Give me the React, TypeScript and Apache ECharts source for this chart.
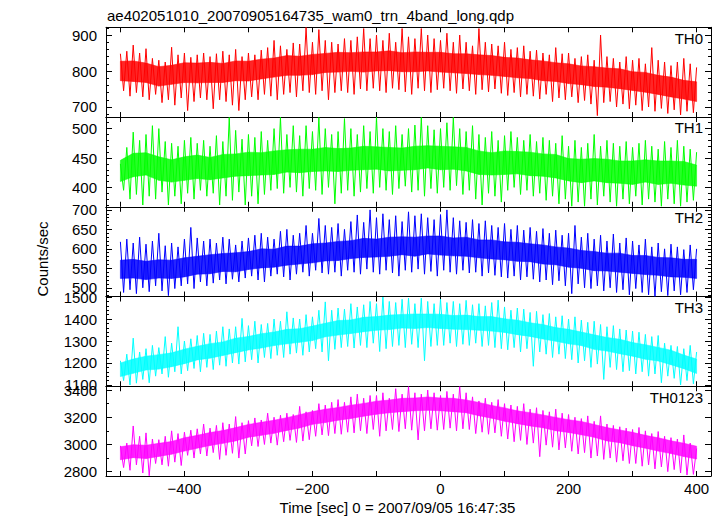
import React, { useEffect, useRef } from "react";
import * as echarts from "echarts";

const TITLE = "ae402051010_20070905164735_wam0_trn_4band_long.qdp";
const X_NAME = "Time [sec] 0 = 2007/09/05 16:47:35";
const Y_NAME = "Counts/sec";
const BANDS = ["TH0", "TH1", "TH2", "TH3", "TH0123"];
const COLORS = ["#ff0000", "#00ff00", "#0000ff", "#00ffff", "#ff00ff"];

// envelope: upper values at T_START + 10*i, lower values at T_START + 5 + 10*i
const T_START = -500;
const T_STEP = 10;
// dense core band: values at T_START + 20*i
const CORE_STEP = 20;
const X_MIN = -522.5;
const X_MAX = 422.5;
const X_TICKS = [-500, -400, -300, -200, -100, 0, 100, 200, 300, 400];
const X_LABELS = [-400, -200, 0, 200, 400];

const Y_MIN = [672, 367, 477.6, 1094, 2768];
const Y_MAX = [921.5, 519.7, 708, 1502.5, 3428];
const Y_MAJOR = [
  [700, 800, 900],
  [400, 450, 500],
  [500, 550, 600, 650, 700],
  [1100, 1200, 1300, 1400, 1500],
  [2800, 3000, 3200, 3400],
];
const Y_MINOR_STEP = [20, 10, 10, 20, 100];

const TH0_HI = [
  848, 855, 872, 850, 862, 835, 830, 825, 866, 845,
  850, 838, 845, 850, 840, 848, 855, 845, 860, 840,
  850, 845, 858, 865, 885, 870, 860, 878, 875, 921,
  880, 915, 885, 880, 875, 890, 885, 895, 918, 890,
  900, 885, 905, 880, 918, 895, 890, 918, 900, 890,
  885, 905, 880, 900, 880, 870, 918, 880, 875, 870,
  880, 860, 865, 870, 855, 858, 850, 845, 865, 848,
  850, 835, 840, 845, 830, 900, 840, 835, 825, 840,
  830, 835, 820, 865, 830, 825, 815, 825, 835, 820,
  810,
];
const TH0_LO = [
  745, 730, 740, 728, 720, 735, 712, 720, 705, 725,
  690, 715, 725, 720, 695, 720, 715, 705, 690, 720,
  728, 720, 735, 730, 720, 735, 740, 728, 745, 740,
  735, 745, 720, 740, 745, 740, 735, 750, 745, 752,
  745, 740, 752, 748, 742, 735, 752, 745, 740, 748,
  752, 745, 738, 750, 745, 735, 748, 742, 750, 738,
  732, 740, 728, 735, 730, 722, 735, 715, 725, 720,
  728, 712, 718, 708, 676, 712, 715, 700, 708, 695,
  705, 690, 700, 688, 696, 682, 692, 678, 688, 684,
];
const TH0_CORE_HI = [
  827, 828, 822, 812, 816, 823, 822, 824, 821, 828, 827, 833, 836, 843, 841, 846,
  849, 852, 851, 853, 853, 856, 851, 853, 852, 852, 848, 848, 845, 843, 838, 836,
  831, 828, 823, 820, 814, 812, 808, 806, 798, 796, 788, 783, 774, 770,
];
const TH0_CORE_LO = [
  773, 771, 768, 758, 763, 768, 767, 768, 768, 773, 772, 778, 783, 788, 788, 790,
  796, 797, 799, 797, 800, 801, 798, 798, 800, 797, 795, 793, 790, 788, 785, 781,
  779, 773, 771, 765, 762, 757, 755, 751, 746, 741, 735, 728, 722, 715,
];

const TH1_HI = [
  440, 468, 494, 480, 490, 505, 500, 478, 475, 470,
  480, 485, 475, 480, 470, 488, 478, 519, 497, 482,
  490, 485, 495, 480, 500, 519, 490, 505, 488, 505,
  495, 519, 500, 490, 495, 517, 500, 490, 505, 495,
  519, 500, 495, 505, 490, 500, 506, 519, 505, 498,
  500, 510, 519, 500, 495, 505, 490, 485, 495, 480,
  488, 495, 485, 480, 490, 478, 485, 480, 475, 488,
  470, 480, 468, 475, 490, 470, 480, 475, 470, 478,
  468, 475, 480, 470, 465, 478, 468, 480, 470, 465,
  460,
];
const TH1_LO = [
  395, 380, 388, 370, 385, 380, 392, 370, 385, 372,
  390, 380, 395, 385, 390, 370, 385, 378, 392, 370,
  385, 372, 388, 395, 398, 390, 400, 392, 385, 398,
  395, 388, 400, 372, 390, 395, 385, 392, 398, 390,
  400, 395, 388, 398, 402, 392, 395, 385, 398, 390,
  400, 395, 403, 388, 395, 380, 370, 390, 385, 375,
  395, 400, 388, 395, 385, 390, 378, 385, 372, 380,
  368, 375, 368, 380, 370, 385, 375, 368, 380, 372,
  385, 370, 380, 375, 368, 380, 372, 368, 375, 378,
];
const TH1_CORE_HI = [
  446, 458, 459, 452, 447, 452, 455, 451, 456, 457, 460, 459, 462, 464, 465, 465,
  468, 466, 467, 470, 469, 468, 467, 470, 471, 470, 469, 468, 462, 459, 462, 461,
  460, 457, 456, 449, 448, 449, 448, 445, 445, 447, 445, 445, 444, 438,
];
const TH1_CORE_LO = [
  410, 418, 421, 412, 409, 412, 415, 413, 416, 419, 420, 421, 422, 426, 425, 427,
  428, 427, 429, 430, 431, 428, 429, 430, 433, 430, 431, 428, 422, 421, 422, 423,
  420, 419, 416, 411, 408, 411, 408, 407, 405, 409, 405, 407, 404, 402,
];

const TH2_HI = [
  618, 625, 615, 630, 612, 620, 640, 608, 615, 605,
  625, 655, 628, 620, 625, 615, 630, 625, 610, 620,
  628, 635, 640, 630, 625, 645, 650, 635, 640, 660,
  640, 678, 660, 655, 665, 650, 670, 687, 668, 700,
  680, 690, 675, 685, 670, 695, 685, 690, 680, 675,
  688, 700, 680, 672, 668, 675, 665, 672, 660, 655,
  665, 650, 660, 648, 655, 645, 652, 640, 648, 635,
  640, 660, 630, 640, 625, 635, 620, 638, 615, 628,
  620, 610, 625, 605, 615, 600, 612, 605, 598, 610,
  600,
];
const TH2_LO = [
  488, 495, 485, 500, 490, 505, 492, 480, 498, 505,
  510, 498, 515, 505, 512, 520, 510, 522, 515, 525,
  530, 520, 515, 530, 535, 528, 520, 535, 540, 530,
  545, 538, 535, 540, 530, 545, 540, 535, 548, 540,
  535, 545, 538, 530, 545, 540, 548, 535, 542, 530,
  545, 540, 535, 545, 538, 540, 530, 538, 532, 528,
  525, 530, 520, 528, 522, 515, 520, 508, 518, 505,
  485, 510, 500, 498, 505, 492, 500, 488, 495, 482,
  498, 488, 482, 478, 490, 480, 492, 482, 488, 495,
];
const TH2_CORE_HI = [
  571, 573, 568, 572, 571, 577, 581, 585, 588, 590, 593, 600, 599, 607, 607, 613,
  615, 619, 621, 627, 625, 630, 631, 630, 633, 633, 628, 630, 623, 623, 618, 617,
  613, 610, 605, 602, 596, 593, 589, 589, 583, 583, 578, 577, 573, 573,
];
const TH2_CORE_LO = [
  524, 525, 521, 525, 524, 528, 535, 536, 542, 541, 547, 551, 553, 558, 561, 564,
  569, 570, 575, 578, 579, 581, 585, 581, 587, 584, 582, 581, 577, 574, 572, 568,
  567, 561, 559, 553, 550, 544, 543, 540, 537, 534, 532, 528, 527, 524,
];

const TH3_HI = [
  1210, 1240, 1313, 1250, 1265, 1280, 1270, 1320, 1290, 1365,
  1300, 1310, 1325, 1335, 1330, 1345, 1365, 1355, 1365, 1403,
  1370, 1390, 1375, 1380, 1400, 1390, 1433, 1405, 1400, 1420,
  1410, 1440, 1478, 1440, 1450, 1445, 1470, 1455, 1465, 1480,
  1470, 1500, 1480, 1475, 1490, 1495, 1470, 1495, 1480, 1470,
  1490, 1475, 1480, 1470, 1485, 1465, 1470, 1460, 1475, 1486,
  1455, 1440, 1450, 1445, 1430, 1435, 1420, 1425, 1410, 1415,
  1400, 1410, 1395, 1385, 1390, 1375, 1365, 1370, 1355, 1350,
  1345, 1340, 1330, 1320, 1325, 1290, 1280, 1275, 1265, 1280,
  1250,
];
const TH3_LO = [
  1120, 1100, 1108, 1125, 1110, 1140, 1150, 1135, 1160, 1150,
  1165, 1175, 1160, 1180, 1170, 1190, 1185, 1200, 1195, 1205,
  1215, 1200, 1225, 1220, 1235, 1225, 1240, 1245, 1235, 1250,
  1265, 1250, 1210, 1262, 1270, 1275, 1268, 1280, 1270, 1290,
  1252, 1265, 1275, 1280, 1270, 1285, 1270, 1210, 1275, 1280,
  1280, 1290, 1275, 1285, 1280, 1290, 1275, 1280, 1270, 1265,
  1260, 1270, 1250, 1265, 1185, 1250, 1240, 1225, 1240, 1220,
  1215, 1200, 1210, 1180, 1195, 1125, 1180, 1170, 1160, 1165,
  1150, 1160, 1140, 1150, 1110, 1140, 1130, 1100, 1120, 1105,
];
const TH3_CORE_HI = [
  1200, 1218, 1231, 1238, 1246, 1263, 1276, 1288, 1296, 1313, 1321, 1333, 1341, 1353, 1356, 1368,
  1381, 1393, 1396, 1408, 1411, 1418, 1421, 1423, 1423, 1422, 1416, 1418, 1411, 1411, 1401, 1395,
  1383, 1375, 1361, 1353, 1341, 1328, 1316, 1308, 1293, 1283, 1271, 1258, 1236, 1218,
];
const TH3_CORE_LO = [
  1138, 1153, 1168, 1172, 1183, 1197, 1214, 1222, 1234, 1247, 1259, 1268, 1279, 1287, 1294, 1302,
  1319, 1327, 1334, 1342, 1349, 1352, 1359, 1357, 1361, 1357, 1354, 1352, 1349, 1345, 1339, 1329,
  1321, 1309, 1299, 1287, 1279, 1262, 1254, 1242, 1231, 1217, 1209, 1192, 1174, 1152,
];

const TH0123_HI = [
  2990, 3010, 3136, 3060, 3085, 3040, 3035, 3060, 3100, 3080,
  3090, 3105, 3115, 3150, 3120, 3140, 3160, 3150, 3205, 3160,
  3175, 3195, 3180, 3230, 3200, 3215, 3230, 3220, 3280, 3240,
  3250, 3300, 3290, 3310, 3330, 3310, 3350, 3370, 3340, 3360,
  3360, 3380, 3340, 3410, 3370, 3425, 3380, 3370, 3400, 3380,
  3360, 3390, 3370, 3425, 3380, 3350, 3320, 3340, 3310, 3330,
  3300, 3290, 3280, 3300, 3260, 3270, 3250, 3240, 3260, 3230,
  3220, 3200, 3190, 3210, 3170, 3210, 3150, 3140, 3130, 3120,
  3110, 3125, 3100, 3080, 3095, 3060, 3050, 3040, 3070, 3010,
  2970,
];
const TH0123_LO = [
  2830, 2810, 2850, 2790, 2770, 2860, 2850, 2840, 2870, 2845,
  2920, 2900, 2930, 2915, 2940, 2890, 2920, 2935, 2900, 2930,
  2990, 2985, 3000, 3010, 2995, 3020, 3030, 3015, 3025, 3035,
  3060, 3070, 3065, 3080, 3075, 3090, 3085, 3100, 3080, 3110,
  3060, 3100, 3110, 3095, 3115, 3105, 3033, 3100, 3115, 3105,
  3110, 3120, 3100, 3115, 3110, 3080, 3090, 3075, 3085, 3060,
  3040, 3020, 3030, 3000, 3010, 2910, 2995, 2980, 2960, 2975,
  2950, 2930, 2940, 2900, 2915, 2890, 2900, 2870, 2880, 2860,
  2860, 2840, 2850, 2820, 2835, 2800, 2815, 2790, 2775, 2780,
];
const TH0123_CORE_HI = [
  2983, 2998, 2994, 3008, 3022, 3049, 3067, 3088, 3102, 3124, 3147, 3163, 3178, 3197, 3219, 3242,
  3259, 3272, 3289, 3302, 3318, 3327, 3339, 3342, 3349, 3342, 3339, 3327, 3309, 3287, 3269, 3247,
  3234, 3217, 3199, 3182, 3169, 3147, 3124, 3107, 3089, 3067, 3049, 3027, 3009, 2987,
];
const TH0123_CORE_LO = [
  2887, 2903, 2896, 2912, 2928, 2951, 2973, 2992, 3008, 3026, 3053, 3067, 3082, 3103, 3121, 3148,
  3161, 3178, 3191, 3208, 3222, 3233, 3241, 3248, 3251, 3248, 3241, 3233, 3211, 3193, 3171, 3153,
  3136, 3123, 3101, 3088, 3071, 3053, 3026, 3013, 2991, 2973, 2951, 2933, 2911, 2893,
];

const HI = [TH0_HI, TH1_HI, TH2_HI, TH3_HI, TH0123_HI];
const LO = [TH0_LO, TH1_LO, TH2_LO, TH3_LO, TH0123_LO];
const CORE_HI = [TH0_CORE_HI, TH1_CORE_HI, TH2_CORE_HI, TH3_CORE_HI, TH0123_CORE_HI];
const CORE_LO = [TH0_CORE_LO, TH1_CORE_LO, TH2_CORE_LO, TH3_CORE_LO, TH0123_CORE_LO];

// layout
const W = 723;
const H = 516;
const GRID_LEFT = 106;
const GRID_RIGHT = 12;
const TOP0 = 27.3;
const PANEL_H = 89.74;
const FONT = '"Liberation Sans", Arial, Helvetica, sans-serif';

function zigzag(hi: number[], lo: number[]) {
  const d: number[][] = [];
  for (let i = 0; i < hi.length; i++) {
    d.push([T_START + T_STEP * i, hi[i]]);
    if (i < lo.length) d.push([T_START + T_STEP * i + T_STEP / 2, lo[i]]);
  }
  return d;
}

// each item: one segment of the core band [t0, lo0, hi0, t1, lo1, hi1]
function coreSegments(lo: number[], hi: number[]) {
  const d: number[][] = [];
  for (let i = 0; i + 1 < lo.length; i++) {
    d.push([
      T_START + CORE_STEP * i, lo[i], hi[i],
      T_START + CORE_STEP * (i + 1), lo[i + 1], hi[i + 1],
    ]);
  }
  return d;
}

function minorTicks(p: number) {
  const out: number[] = [];
  const step = Y_MINOR_STEP[p];
  const start = Math.ceil(Y_MIN[p] / step) * step;
  for (let v = start; v <= Y_MAX[p]; v += step) {
    if (Y_MAJOR[p].indexOf(v) < 0) out.push(v);
  }
  return out;
}

const fmtX = (v: number) => (v < 0 ? "\u2212" + Math.abs(v) : String(v));
const fmtY = (v: number) => String(v);

function buildOption() {
  const grid: any[] = [];
  const xAxis: any[] = [];
  const yAxis: any[] = [];
  const series: any[] = [];
  const graphic: any[] = [];
  const line = { show: true, onZero: false, lineStyle: { color: "#000", width: 1 } };
  const noLine = { show: false, onZero: false };

  for (let p = 0; p < 5; p++) {
    const top = TOP0 + PANEL_H * p;
    grid.push({ left: GRID_LEFT, right: GRID_RIGHT, top, height: PANEL_H, containLabel: false });
    const last = p === 4;
    const xBase = { type: "value", gridIndex: p, min: X_MIN, max: X_MAX, splitLine: { show: false } };
    xAxis.push({
      ...xBase, position: "bottom",
      axisLine: line,
      axisTick: { show: true, inside: true, length: 5, customValues: X_TICKS, lineStyle: { color: "#000" } },
      axisLabel: {
        show: last, customValues: X_LABELS, formatter: fmtX, color: "#000",
        fontSize: 15, fontFamily: FONT, margin: 5,
      },
    });
    xAxis.push({
      ...xBase, position: "top",
      axisLine: line,
      axisTick: { show: true, inside: true, length: 5, customValues: X_TICKS, lineStyle: { color: "#000" } },
      axisLabel: { show: false },
    });
    const minors = minorTicks(p);
    const yBase = { type: "value", gridIndex: p, min: Y_MIN[p], max: Y_MAX[p], splitLine: { show: false } };
    yAxis.push({
      ...yBase, position: "left",
      axisLine: line,
      axisTick: { show: true, inside: true, length: 6, customValues: Y_MAJOR[p], lineStyle: { color: "#000" } },
      axisLabel: {
        show: true, customValues: Y_MAJOR[p], formatter: fmtY, color: "#000",
        fontSize: 15, fontFamily: FONT, margin: 9,
      },
    });
    yAxis.push({
      ...yBase, position: "right",
      axisLine: line,
      axisTick: { show: true, inside: true, length: 6, customValues: Y_MAJOR[p], lineStyle: { color: "#000" } },
      axisLabel: { show: false },
    });
    yAxis.push({
      ...yBase, position: "left",
      axisLine: noLine,
      axisTick: { show: true, inside: true, length: 3, customValues: minors, lineStyle: { color: "#000" } },
      axisLabel: { show: false },
    });
    yAxis.push({
      ...yBase, position: "right",
      axisLine: noLine,
      axisTick: { show: true, inside: true, length: 3, customValues: minors, lineStyle: { color: "#000" } },
      axisLabel: { show: false },
    });

    const color = COLORS[p];
    series.push({
      type: "custom", xAxisIndex: 2 * p, yAxisIndex: 4 * p, silent: true, z: 1, clip: true,
      data: coreSegments(CORE_LO[p], CORE_HI[p]),
      renderItem: (params: any, api: any) => {
        const a = api.coord([api.value(0), api.value(1)]);
        const b = api.coord([api.value(0), api.value(2)]);
        const c = api.coord([api.value(3), api.value(5)]);
        const d = api.coord([api.value(3), api.value(4)]);
        return {
          type: "polygon",
          shape: { points: [a, b, c, d] },
          style: { fill: color, stroke: color, lineWidth: 0.6, opacity: 0.85 },
        };
      },
    });
    series.push({
      type: "line", name: BANDS[p], xAxisIndex: 2 * p, yAxisIndex: 4 * p,
      data: zigzag(HI[p], LO[p]), showSymbol: false, symbol: "none", clip: true,
      lineStyle: { color, width: 1 }, itemStyle: { color }, z: 2,
    });
    graphic.push({
      type: "text", x: 703, y: top + 10.8, z: 100,
      style: { text: BANDS[p], fill: "#000", font: `15px ${FONT}`, textAlign: "right", textVerticalAlign: "middle" },
    });
  }

  graphic.push({
    type: "text", x: 107, y: 15.5,
    style: { text: TITLE, fill: "#000", font: `15px ${FONT}`, textAlign: "left", textVerticalAlign: "middle" },
  });
  graphic.push({
    type: "text", x: 397.5, y: 507,
    style: { text: X_NAME, fill: "#000", font: `15px ${FONT}`, textAlign: "center", textVerticalAlign: "middle" },
  });
  graphic.push({
    type: "text", x: 42, y: 259, rotation: Math.PI / 2,
    style: { text: Y_NAME, fill: "#000", font: `15px ${FONT}`, textAlign: "center", textVerticalAlign: "middle" },
  });

  return {
    animation: false,
    backgroundColor: "#fff",
    grid, xAxis, yAxis, series, graphic,
  };
}

export default function App() {
  const ref = useRef<HTMLDivElement>(null);
  useEffect(() => {
    document.body.style.margin = "0";
    if (!ref.current) return;
    const chart = echarts.init(ref.current, null, { renderer: "svg", width: W, height: H });
    chart.setOption(buildOption());
    return () => chart.dispose();
  }, []);
  return <div ref={ref} style={{ width: W, height: H, position: "absolute", left: 0, top: 0 }} />;
}
